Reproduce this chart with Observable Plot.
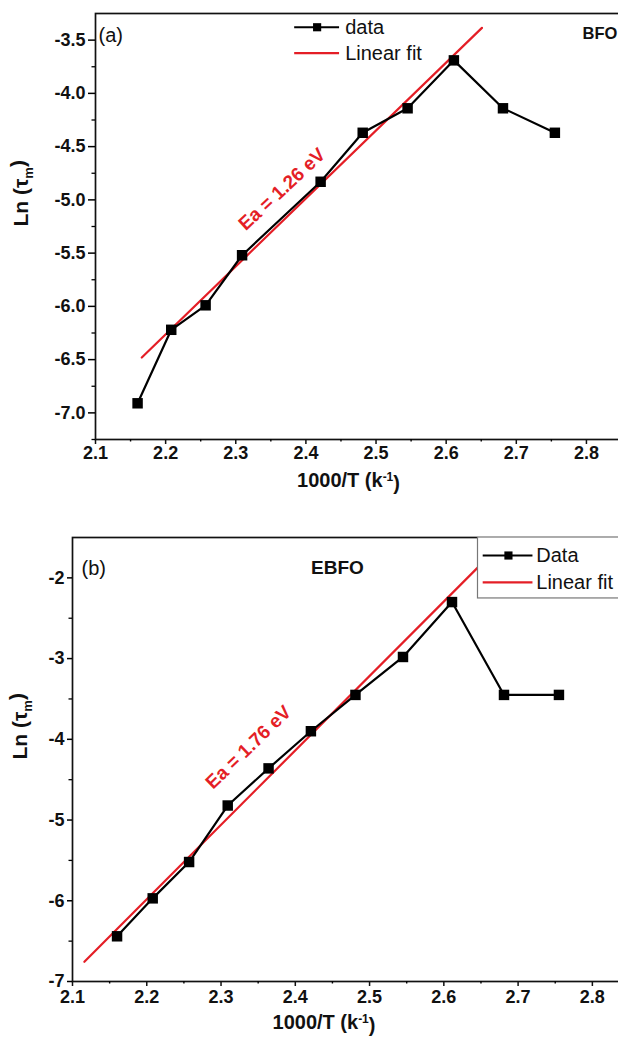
<!DOCTYPE html>
<html><head><meta charset="utf-8">
<script src="https://cdn.jsdelivr.net/npm/d3@7"></script>
<script src="https://cdn.jsdelivr.net/npm/@observablehq/plot@0.6"></script>
<style>
html,body{margin:0;padding:0;background:#fff;}
#wrap{width:618px;height:1041px;overflow:hidden;position:relative;background:#fff;}
#wrap svg{display:block;max-width:none !important;}
</style></head><body><div id="wrap"></div>
<script>
// ---- data ----
const bfoX = [2.160, 2.208, 2.257, 2.309, 2.421, 2.481, 2.545, 2.611, 2.681, 2.755];
const bfoY = [-6.91, -6.22, -5.99, -5.52, -4.83, -4.37, -4.14, -3.69, -4.14, -4.37];
const bfoFitX = [2.166, 2.651];
const bfoFitY = [-6.48, -3.385];

const ebfoX = [2.160, 2.208, 2.257, 2.309, 2.364, 2.421, 2.481, 2.545, 2.611, 2.681, 2.755];
const ebfoY = [-6.44, -5.97, -5.52, -4.82, -4.36, -3.90, -3.45, -2.98, -2.30, -3.45, -3.45];
const ebfoFitX = [2.116, 2.66];
const ebfoFitY = [-6.756, -1.74];

const xTicks = [2.1, 2.2, 2.3, 2.4, 2.5, 2.6, 2.7, 2.8];
const xMinorTicks = [2.15, 2.25, 2.35, 2.45, 2.55, 2.65, 2.75];
const bfoYTicks = [-7.0, -6.5, -6.0, -5.5, -5.0, -4.5, -4.0, -3.5];
const bfoYMinor = [-7.25, -6.75, -6.25, -5.75, -5.25, -4.75, -4.25, -3.75];
const ebfoYTicks = [-7, -6, -5, -4, -3, -2];
const ebfoYMinor = [-6.5, -5.5, -4.5, -3.5, -2.5];

const bfoEa = {x: 2.366, y: -4.90, label: "Ea = 1.26 eV"};
const ebfoEa = {x: 2.337, y: -4.10, label: "Ea = 1.76 eV"};

// legend anchors (data units of each panel)
const bfoLegend = {x1: 2.384, x2: 2.448, xs: 2.416, xt: 2.456, rows: [-3.379, -3.623], labels: ["data", "Linear fit"]};
const ebfoLegend = {bx1: 2.646, bx2: 2.95, by1: -1.5, by2: -2.255, x1: 2.653, x2: 2.720, xs: 2.687, xt: 2.7245, rows: [-1.723, -2.057], labels: ["Data", "Linear fit"]};

const FONT = "'Liberation Sans', Arial, Helvetica, sans-serif";
const RED = "#e41e26";

function pts(xs, ys) { return xs.map((x, i) => ({x, y: ys[i]})); }

function panel(cfg) {
  const data = pts(cfg.xs, cfg.ys);
  const fit = pts(cfg.fitX, cfg.fitY);
  const L = cfg.legend;
  const marks = [
    Plot.frame({stroke: "#111", strokeWidth: 1.7}),
    Plot.axisX(xTicks, {tickSize: 5, tickPadding: cfg.xTickPad, tickFormat: d => d.toFixed(1), fontSize: 18, fontWeight: "bold", label: null, strokeWidth: 1.5, stroke: "#111", fill: "#111"}),
    Plot.axisX(xMinorTicks, {tickSize: 2.5, tickFormat: () => "", label: null, strokeWidth: 1.4}),
    Plot.axisY(cfg.yTicks, {tickSize: cfg.yTickSize, tickPadding: cfg.yTickPad, tickFormat: cfg.yFormat, fontSize: 18, fontWeight: "bold", label: null, strokeWidth: 1.5, fill: "#111"}),
    Plot.axisY(cfg.yMinor, {tickSize: 3.5, tickFormat: () => "", label: null, strokeWidth: 1.3}),
    Plot.line(fit, {x: "x", y: "y", stroke: RED, strokeWidth: 2.2, clip: true}),
    Plot.line(data, {x: "x", y: "y", stroke: "#000", strokeWidth: 2.2}),
    Plot.dot(data, {x: "x", y: "y", symbol: "square", r: 5.9, fill: "#000", stroke: "none"}),
    Plot.text([cfg.ea], {x: "x", y: "y", text: "label", rotate: cfg.eaRotate, fill: RED, fontSize: 19, fontWeight: "bold"}),
    // axis titles
    Plot.text(["1000/T (k-1)"], {frameAnchor: "bottom", dx: cfg.xTitleDx, dy: 47, text: d => d, fontSize: 20, fontWeight: "bold", fill: "#111"}),
    Plot.text(["Ln (τm)"], {frameAnchor: "left", dx: cfg.yTitleDx, rotate: -90, text: d => d, fontSize: 21, fontWeight: "bold", fill: "#111"}),
  ];
  if (L.bx1 !== undefined) {
    marks.push(Plot.rect([L], {x1: "bx1", x2: "bx2", y1: "by1", y2: "by2", fill: "white", stroke: "#777", strokeWidth: 1.2, clip: true}));
  }
  marks.push(
    Plot.ruleY([L.rows[0]], {x1: L.x1, x2: L.x2, stroke: "#000", strokeWidth: 2.2}),
    Plot.dot([{x: L.xs, y: L.rows[0]}], {x: "x", y: "y", symbol: "square", r: 4.6, fill: "#000", stroke: "none"}),
    Plot.ruleY([L.rows[1]], {x1: L.x1, x2: L.x2, stroke: RED, strokeWidth: 2.2}),
    Plot.text(L.rows.map((r, i) => ({x: L.xt, y: r, t: L.labels[i]})), {x: "x", y: "y", text: "t", textAnchor: "start", fontSize: 20, fill: "#111"}),
  );
  for (const a of cfg.annotations) {
    marks.push(Plot.text([a.t], {frameAnchor: "top-left", dx: a.dx, dy: a.dy, text: d => d, textAnchor: a.anchor || "start", fontSize: a.size || 19, fontWeight: a.bold ? "bold" : "normal", fill: "#111"}));
  }
  const svg = Plot.plot({
    width: 640, height: cfg.height,
    marginLeft: cfg.ml, marginRight: cfg.mr, marginTop: cfg.mt, marginBottom: cfg.mb,
    x: {domain: [2.1, 2.85]},
    y: {domain: cfg.yDomain},
    style: {fontFamily: FONT, background: "white", maxWidth: "none", overflow: "hidden"},
    marks
  });
  // make tick labels bold and sized like the reference
  d3.select(svg).selectAll('g[aria-label$="tick label"]')
    .attr("font-weight", "bold").attr("font-size", 18).attr("fill", "#111");
  // superscript / subscript in axis titles
  d3.select(svg).selectAll("text").each(function () {
    const s = this.textContent;
    const t = d3.select(this);
    if (s === "1000/T (k-1)") {
      t.text(null);
      t.append("tspan").text("1000/T (k");
      t.append("tspan").attr("dy", "-0.45em").attr("font-size", 12).text("-1");
      t.append("tspan").attr("dy", "0.45em").text(")");
    } else if (s === "Ln (τm)") {
      t.text(null);
      t.append("tspan").text("Ln (τ");
      t.append("tspan").attr("dy", "0.35em").attr("font-size", 13).text("m");
      t.append("tspan").attr("dy", "-0.35em").text(")");
    }
  });
  return svg;
}

const wrap = document.getElementById("wrap");
wrap.appendChild(panel({
  xs: bfoX, ys: bfoY, fitX: bfoFitX, fitY: bfoFitY,
  yTicks: bfoYTicks, yMinor: bfoYMinor, yFormat: d => d.toFixed(1), yTickSize: 7, yTickPad: 3, xTickPad: 2,
  yDomain: [-7.25, -3.25],
  height: 505, ml: 95, mr: 19, mt: 13, mb: 66,
  ea: bfoEa, eaRotate: -43,
  xTitleDx: -10, yTitleDx: -74,
  legend: bfoLegend,
  annotations: [{t: "(a)", dx: 3, dy: 14, size: 20}, {t: "BFO", dx: 487, dy: 14, bold: true, size: 16.5}]
}));
wrap.appendChild(panel({
  xs: ebfoX, ys: ebfoY, fitX: ebfoFitX, fitY: ebfoFitY,
  yTicks: ebfoYTicks, yMinor: ebfoYMinor, yFormat: d => String(d), yTickSize: 5, yTickPad: 3, xTickPad: 3.5,
  yDomain: [-7, -1.5],
  height: 536, ml: 72, mr: 11, mt: 32, mb: 60,
  ea: ebfoEa, eaRotate: -44,
  xTitleDx: -27, yTitleDx: -52,
  legend: ebfoLegend,
  annotations: [{t: "(b)", dx: 9, dy: 23, size: 20}, {t: "EBFO", dx: 265, dy: 23, bold: true, anchor: "middle", size: 19}]
}));
</script></body></html>
